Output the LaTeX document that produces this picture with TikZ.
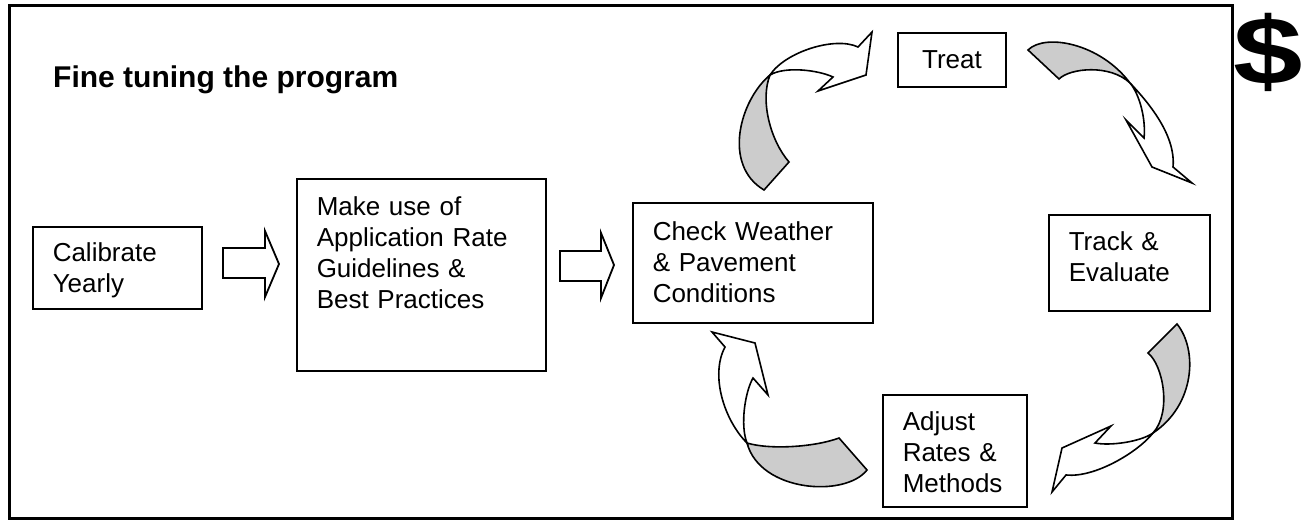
\documentclass[tikz,border=0pt]{standalone}
\usepackage{fontspec}
\setmainfont{Liberation Sans}
\usetikzlibrary{positioning,calc}

\begin{document}
\begin{tikzpicture}[x=1pt, y=-1pt,
    box/.style={draw, line width=1.5pt, font=\fontsize{26}{31}\selectfont},
    stepbox/.style={box, anchor=north west, align=left, inner xsep=20pt, inner ysep=0pt, text height=36pt},
    flatarrow/.style={draw, line width=1.8pt, fill=white, line join=miter},
    ribbon/.style={draw, line width=1.6pt, fill=white, line join=miter},
    ribbonback/.style={ribbon, fill=black!20}]
    \useasboundingbox (0,0) rectangle (1308,527);

    % Frame and title
    \draw[line width=3pt] (9,6) rectangle (1232,518);
    \node[font=\bfseries\fontsize{30}{36}\selectfont, anchor=base west, inner sep=0pt] (title) at (53,87) {Fine tuning the program};
    \node[font=\bfseries\fontsize{96}{96}\selectfont, inner sep=0pt] (dollar) at (1268,52) {\scalebox{1.3}[1]{\$}};

    % Steps
    \node[stepbox, text width=129pt, text height=35pt, text depth=47pt] (calib) at (32,226) {Calibrate\\Yearly};
    \node[stepbox, text width=209pt, text height=37pt, text depth=155pt] (guide) at (296,178) {Make use of\\Application Rate\\Guidelines \&\\Best Practices};
    \node[stepbox, text width=200pt, text height=38pt, text depth=82pt] (check) at (632,202) {Check Weather\\\& Pavement\\Conditions};
    \node[box, minimum width=108pt, minimum height=54pt, inner sep=0pt] (treat) at (952,60) {Treat};
    \node[stepbox, text width=121pt, text depth=60pt] (track) at (1048,214) {Track \&\\Evaluate};
    \node[stepbox, text width=104pt, text depth=76pt] (adjust) at (882,394) {Adjust\\Rates \&\\Methods};

    % Straight block arrows
    \draw[flatarrow] (223,248) -- (265,248) -- (265,231) -- (279,264) -- (265,297) -- (265,278) -- (223,278) -- cycle;
    \draw[flatarrow] (560,251) -- (601,251) -- (601,233) -- (614,265) -- (601,298) -- (601,281) -- (560,281) -- cycle;

    % Loop: check -> treat
    \coordinate (pa) at (770,75);
    \draw[ribbonback] (pa) .. controls (740,100) and (722,165) .. (764,190) -- (789,162) .. controls (770,140) and (760,100) .. (pa) -- cycle;
    \draw[ribbon] (pa) .. controls (785,52) and (835,36) .. (858,47) -- (872,32) -- (866,75) -- (818,91) -- (833,77) .. controls (818,70) and (785,66) .. (pa) -- cycle;

    % Loop: treat -> track
    \coordinate (pb) at (1130,83);
    \draw[ribbonback] (1028,50) .. controls (1045,33) and (1100,43) .. (pb) .. controls (1110,64) and (1070,68) .. (1059,79) -- cycle;
    \draw[ribbon] (pb) .. controls (1148,102) and (1176,135) .. (1173,167) -- (1192,183) -- (1152,167) -- (1126,120) -- (1144,138) .. controls (1146,120) and (1140,95) .. (pb) -- cycle;

    % Loop: track -> adjust
    \coordinate (pc) at (1153,433);
    \draw[ribbonback] (1177,324) .. controls (1198,350) and (1195,405) .. (pc) .. controls (1172,412) and (1163,365) .. (1148,353) -- cycle;
    \draw[ribbon] (pc) .. controls (1138,452) and (1095,478) .. (1066,475) -- (1052,492) -- (1062,448) -- (1111,426) -- (1095,443) .. controls (1110,446) and (1140,442) .. (pc) -- cycle;

    % Loop: adjust -> check
    \coordinate (pd) at (747,443);
    \draw[ribbonback] (pd) .. controls (760,492) and (845,498) .. (867,470) -- (839,438) .. controls (815,447) and (770,450) .. (pd) -- cycle;
    \draw[ribbon] (pd) .. controls (724,420) and (710,375) .. (725,347) -- (712,332) -- (755,343) -- (768,395) -- (753,378) .. controls (745,392) and (740,425) .. (pd) -- cycle;
\end{tikzpicture}
\end{document}
